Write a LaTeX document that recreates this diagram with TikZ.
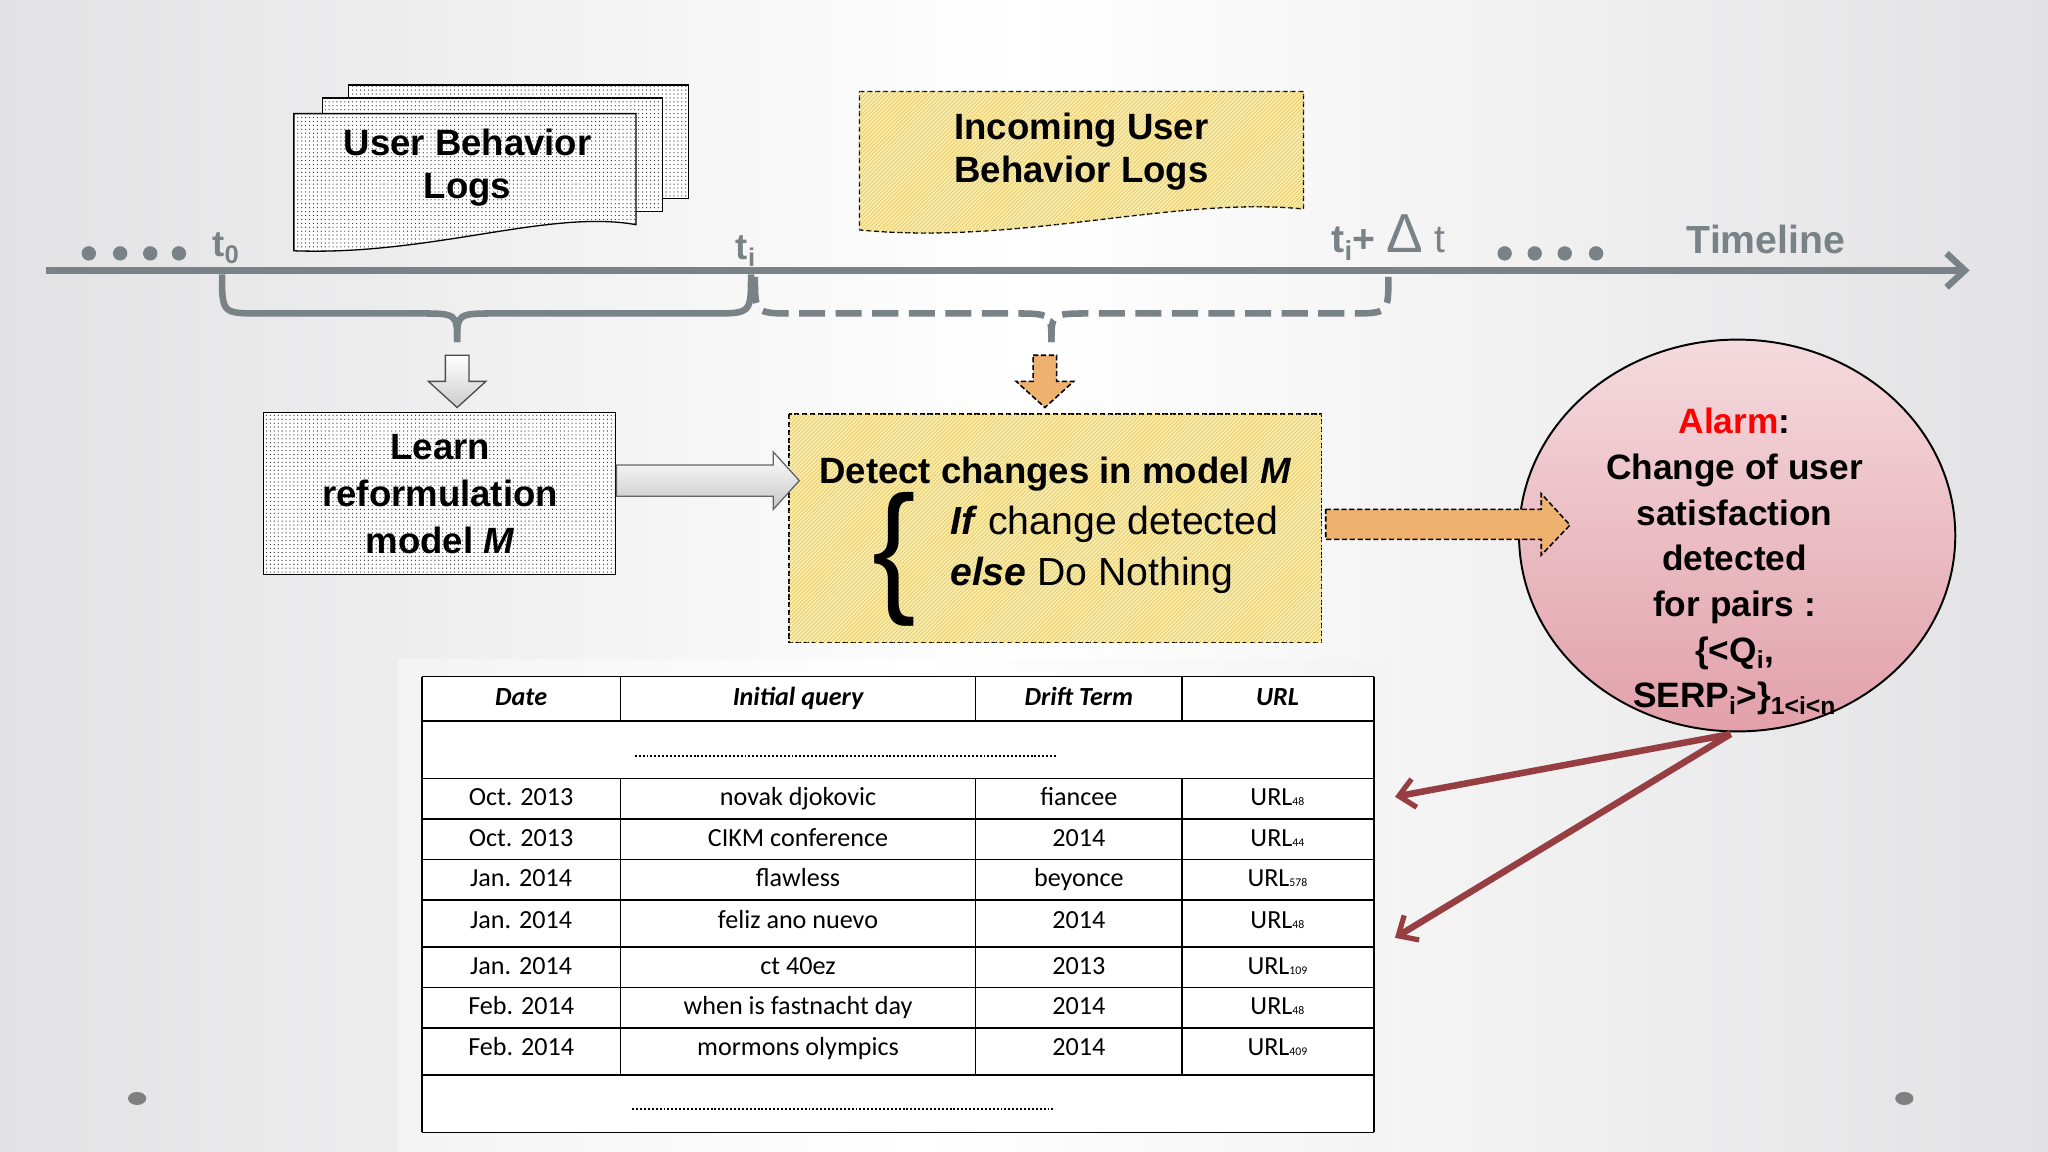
\documentclass[tikz,border=0pt]{standalone}
\usepackage{fontspec}
\setmainfont{Liberation Sans}
\newfontfamily\tabfont{Carlito}
\usetikzlibrary{patterns,arrows.meta,calc}
\definecolor{tl}{RGB}{120,130,135}
\definecolor{ylw}{RGB}{250,236,170}
\definecolor{ylwl}{RGB}{222,190,90}
\definecolor{org}{RGB}{238,178,110}
\definecolor{pinkt}{RGB}{244,218,222}
\definecolor{pinkb}{RGB}{226,160,170}
\definecolor{brn}{RGB}{150,62,66}
\definecolor{bg}{RGB}{226,226,228}
\tikzset{
 big/.style={font=\fontsize{28}{33}\selectfont\bfseries,align=center},
 dotbox/.style={draw=black,line width=1pt,fill=white,postaction={pattern=dots,pattern color=black!80}},
 ylwbox/.style={draw=black,line width=1pt,dash pattern=on 4pt off 2pt,fill=ylw,postaction={pattern=north east lines,pattern color=ylwl}},
 cell/.style={font=\tabfont\fontsize{20}{22}\selectfont,text height=14pt,text depth=4pt},
 hcell/.style={font=\tabfont\fontsize{20}{22}\selectfont\bfseries\itshape,text height=14pt,text depth=4pt}
}
\begin{document}
\begin{tikzpicture}[x=1pt,y=-1pt]
\useasboundingbox (0,0) rectangle (1568,882);
\fill[bg] (0,0) rectangle (1568,882);
\shade[left color=bg,right color=white] (0,0) rectangle (784,882);
\shade[left color=white,right color=bg] (784,0) rectangle (1568,882);
\shade[left color=white!60!bg,right color=white] (305,505) rectangle (700,882);
\shade[left color=white,right color=white!60!bg] (700,505) rectangle (1065,882);
% docs
\draw[dotbox] (267,65) rectangle (527,152);
\draw[dotbox] (247,75) rectangle (507,162);
\draw[dotbox] (225,87) -- (487,87) -- (487,172) .. controls (420,160) and (330,196) .. (225,192) -- cycle;
\node[big] (ubl) at (358,128) {User Behavior\\Logs};
\draw[ylwbox] (658,70) -- (998,70) -- (998,160) .. controls (900,150) and (780,188) .. (658,176) -- cycle;
\node[big] (iubl) at (828,116) {Incoming User\\Behavior Logs};
% timeline
\coordinate (tls) at (35,207); \coordinate (tle) at (1508,207);
\draw[tl,line width=5pt,-{Straight Barb[length=14pt,width=26pt,line width=5pt]}] (tls) -- (tle);
\foreach \x in {68,92,115,137,1152,1175,1198,1222}\fill[tl] (\x,194) circle (5.5);
\node[tl,font=\fontsize{28}{30}\selectfont\bfseries] (t0) at (173,190) {t\textsubscript{0}};
\node[tl,font=\fontsize{28}{30}\selectfont\bfseries] (ti) at (571,192) {t\textsubscript{i}};
\node[tl,font=\fontsize{30}{30}\selectfont] (tid) at (1063,182) {\textbf{t\textsubscript{i}+} {\fontsize{42}{42}\selectfont Δ} t};
\node[tl,font=\fontsize{30}{30}\selectfont\bfseries] (tline) at (1352,183) {Timeline};
% braces
\draw[tl,line width=5pt] (170,210) .. controls (170,240) .. (200,240) -- (320,240) .. controls (350,240) .. (350,262);
\draw[tl,line width=5pt] (575,210) .. controls (575,240) .. (545,240) -- (380,240) .. controls (350,240) .. (350,262);
\draw[tl,line width=5pt,dash pattern=on 20pt off 8pt] (578,212) .. controls (578,240) .. (608,240) -- (775,240) .. controls (805,240) .. (805,262);
\draw[tl,line width=5pt,dash pattern=on 20pt off 8pt] (1063,212) .. controls (1063,240) .. (1033,240) -- (835,240) .. controls (805,240) .. (805,262);
% block arrows down
\shade[top color=white,bottom color=gray!40,draw=black!70,line width=1pt] (341,272) -- (359,272) -- (359,292) -- (372,292) -- (350,312) -- (328,292) -- (341,292) -- cycle;
\fill[org] (791,272) -- (809,272) -- (809,292) -- (822,292) -- (800,312) -- (778,292) -- (791,292) -- cycle;
\draw[black,line width=1.2pt,dash pattern=on 4pt off 2pt] (791,272) -- (809,272) -- (809,292) -- (822,292) -- (800,312) -- (778,292) -- (791,292) -- cycle;
% learn box
\draw[dotbox] (202,316) rectangle (471,440);
\node[big,font=\fontsize{28}{36}\selectfont\bfseries] (learn) at (337,378) {Learn\\reformulation\\model \textit{M}};
% detect box
\draw[ylwbox] (604,317) rectangle (1012,492);
\node[big] (det) at (808,363) {Detect changes in model \textit{M}};
\node[font=\fontsize{30}{39}\selectfont,anchor=west,align=left] (ifel) at (724,421) {\textbf{\textit{If}} change detected\\\textbf{\textit{else}} Do Nothing};
\node[font=\fontsize{100}{100}\selectfont,yscale=1.1] (br) at (685,428) {\{};
% arrow learn->detect
\shade[top color=white,bottom color=gray!45,draw=black!60,line width=1pt] (472,356) -- (592,356) -- (592,346) -- (612,368) -- (592,390) -- (592,380) -- (472,380) -- cycle;
% alarm
\shade[top color=pinkt,bottom color=pinkb,draw=black,line width=1.5pt] (1330,410) ellipse (167 and 150);
\node[font=\fontsize{27}{35}\selectfont\bfseries,align=center] (alarm) at (1328,430) {\textcolor{red}{Alarm}:\\Change of user\\satisfaction\\detected\\for pairs :\\\{<Q\textsubscript{i},\\SERP\textsubscript{i}>\}\textsubscript{1<i<n}};
\coordinate (ao) at (1325,562);
% arrow detect->alarm
\fill[org] (1015,390) -- (1180,390) -- (1180,378) -- (1202,402) -- (1180,425) -- (1180,413) -- (1015,413) -- cycle;
\draw[line width=1.2pt,dash pattern=on 4pt off 2pt] (1015,390) -- (1180,390) -- (1180,378) -- (1202,402) -- (1180,425) -- (1180,413) -- (1015,413) -- cycle;
% table
\fill[white] (323,518) rectangle (1052,867);
\foreach \y in {518,552,596,627,658,689,725,756,787,823,867}\draw[line width=1.2pt] (323,\y) -- (1052,\y);
\draw[line width=1.2pt] (323,518) -- (323,867) (1052,518) -- (1052,867);
\foreach \x in {475,747,905}{\draw[line width=1.2pt] (\x,518) -- (\x,552); \draw[line width=1.2pt] (\x,596) -- (\x,823);}
\node[hcell] (h1) at (399,535) {Date};
\node[hcell] (h2) at (611,535) {Initial query};
\node[hcell] (h3) at (826,535) {Drift Term};
\node[hcell] (h4) at (978,535) {URL};
\draw[line width=1.5pt,dash pattern=on 1.5pt off 1.5pt] (486,579) -- (810,579);
\draw[line width=1.5pt,dash pattern=on 1.5pt off 1.5pt] (484,849) -- (808,849);
\foreach \d/\q/\t/\u/\y [count=\i] in {Oct. 2013/novak djokovic/fiancee/48/612,Oct. 2013/CIKM conference/2014/44/643,Jan. 2014/flawless/beyonce/578/674,Jan. 2014/feliz ano nuevo/2014/48/706,Jan. 2014/ct 40ez/2013/109/741,Feb. 2014/when is fastnacht day/2014/48/772,Feb. 2014/mormons olympics/2014/409/803}{
 \node[cell] (d\i) at (399,\y) {\d};
 \node[cell] (q\i) at (611,\y) {\q};
 \node[cell] (t\i) at (826,\y) {\t};
 \node[cell] (u\i) at (978,\y) {URL{\fontsize{9}{9}\selectfont\u}};
}
\coordinate (r1) at (1068,610); \coordinate (r2) at (1068,718);
\draw[brn,line width=5pt,-{Straight Barb[length=12pt,width=22pt,line width=4pt]}] (ao) -- (r1);
\draw[brn,line width=5pt,-{Straight Barb[length=12pt,width=22pt,line width=4pt]}] (ao) -- (r2);
\fill[gray] (105,841) ellipse (7 and 5);
\fill[gray] (1458,841) ellipse (7 and 5);
\end{tikzpicture}
\end{document}
